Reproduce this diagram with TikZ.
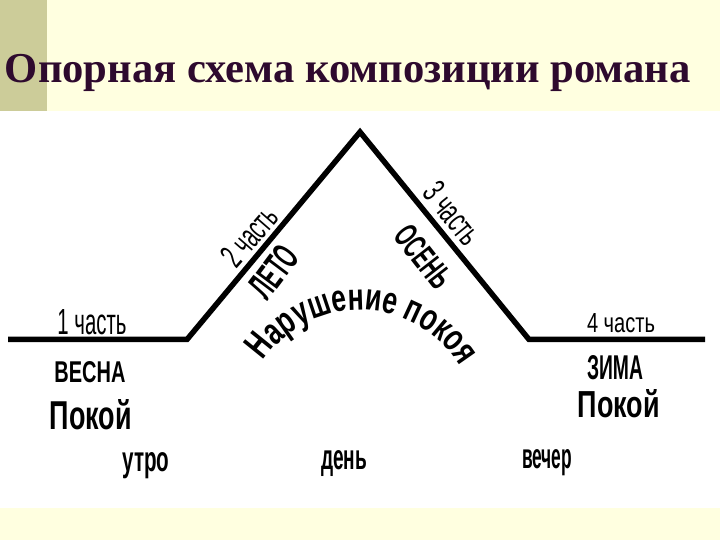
\documentclass[tikz,border=0pt]{standalone}
\usepackage{fontspec}
\setmainfont{Liberation Sans}
\newfontfamily\titlefont{Liberation Serif}
\newfontfamily\nar{Liberation Sans}[FakeStretch=0.72]
\newfontfamily\arcfont{Liberation Sans}[FakeStretch=0.70]
\usetikzlibrary{decorations.text}
\definecolor{bgbeige}{HTML}{FFFFE0}
\definecolor{stripolive}{HTML}{CCCC99}
\definecolor{titlecol}{HTML}{2E0A2E}
\newcommand\fitbox[3]{\resizebox{#1pt}{#2pt}{#3}}
\tikzset{
  lbl/.style={inner sep=0pt, outer sep=0pt, text=black},
  plot line/.style={line width=5.5pt, line join=miter, line cap=butt, black}
}
\begin{document}
\begin{tikzpicture}[x=1pt,y=1pt]
\useasboundingbox (0,0) rectangle (720,540);
% backgrounds
\fill[bgbeige] (0,0) rectangle (720,540);
\fill[white] (0,32) rectangle (720,429);
\fill[stripolive] (0,429) rectangle (47,540);
% title
\node[lbl, anchor=base west, text=titlecol] (title) at (5,457)
  {\titlefont\bfseries\fontsize{42.6}{50}\selectfont Опорная схема композиции романа};
% main line
\coordinate (L) at (8,200.5);
\coordinate (B1) at (187,200.5);
\coordinate (apex) at (360,408);
\coordinate (B2) at (529,200.5);
\coordinate (R) at (705,200.5);
\draw[plot line] (L) -- (B1) -- (apex) -- (B2) -- (R);
% part labels
\node[lbl, anchor=base] (p1) at (92,205) {\fitbox{69}{25}{\nar 1 часть}};
\node[lbl, anchor=base] (p4) at (621,207) {\fitbox{68}{19}{\nar 4 часть}};
\node[lbl, rotate=49] (p2) at (249.5,304) {\fitbox{67}{24}{\nar 2 часть}};
\node[lbl, rotate=-51] (p3) at (452.5,326.5) {\fitbox{70}{24}{\nar 3 часть}};
% seasons
\node[lbl, anchor=base] (spring) at (90,157) {\fitbox{71}{21}{\nar\bfseries ВЕСНА}};
\node[lbl, rotate=53] (summer) at (273.5,268.5) {\fitbox{55}{27}{\nar\bfseries ЛЕТО}};
\node[lbl, rotate=-52] (autumn) at (423.5,283.5) {\fitbox{70}{24}{\nar\bfseries ОСЕНЬ}};
\node[lbl, anchor=base] (winter) at (615,160) {\fitbox{56}{24}{\nar\bfseries ЗИМА}};
% rest
\node[lbl, anchor=base] (rest1) at (91,110) {\fitbox{82}{30}{\nar\bfseries Покой}};
\node[lbl, anchor=base] (rest2) at (619,122) {\fitbox{82}{28}{\nar\bfseries Покой}};
% times of day
\node[lbl, anchor=base] (morning) at (146,68) {\fitbox{47}{19}{\nar\bfseries утро}};
\node[lbl, anchor=base] (day) at (344,70) {\fitbox{46}{19}{\nar\bfseries день}};
\node[lbl, anchor=base] (evening) at (547,71) {\fitbox{50}{19}{\nar\bfseries вечер}};
% arc text
\path[decorate, decoration={text along path, text align=center,
   text format delimiters={|}{|},
   text={|\arcfont\bfseries\fontsize{38}{40}\selectfont|Нарушение покоя}}]
  (360,113) ++(160:117) arc[start angle=160, end angle=17, radius=117];
\end{tikzpicture}
\end{document}
